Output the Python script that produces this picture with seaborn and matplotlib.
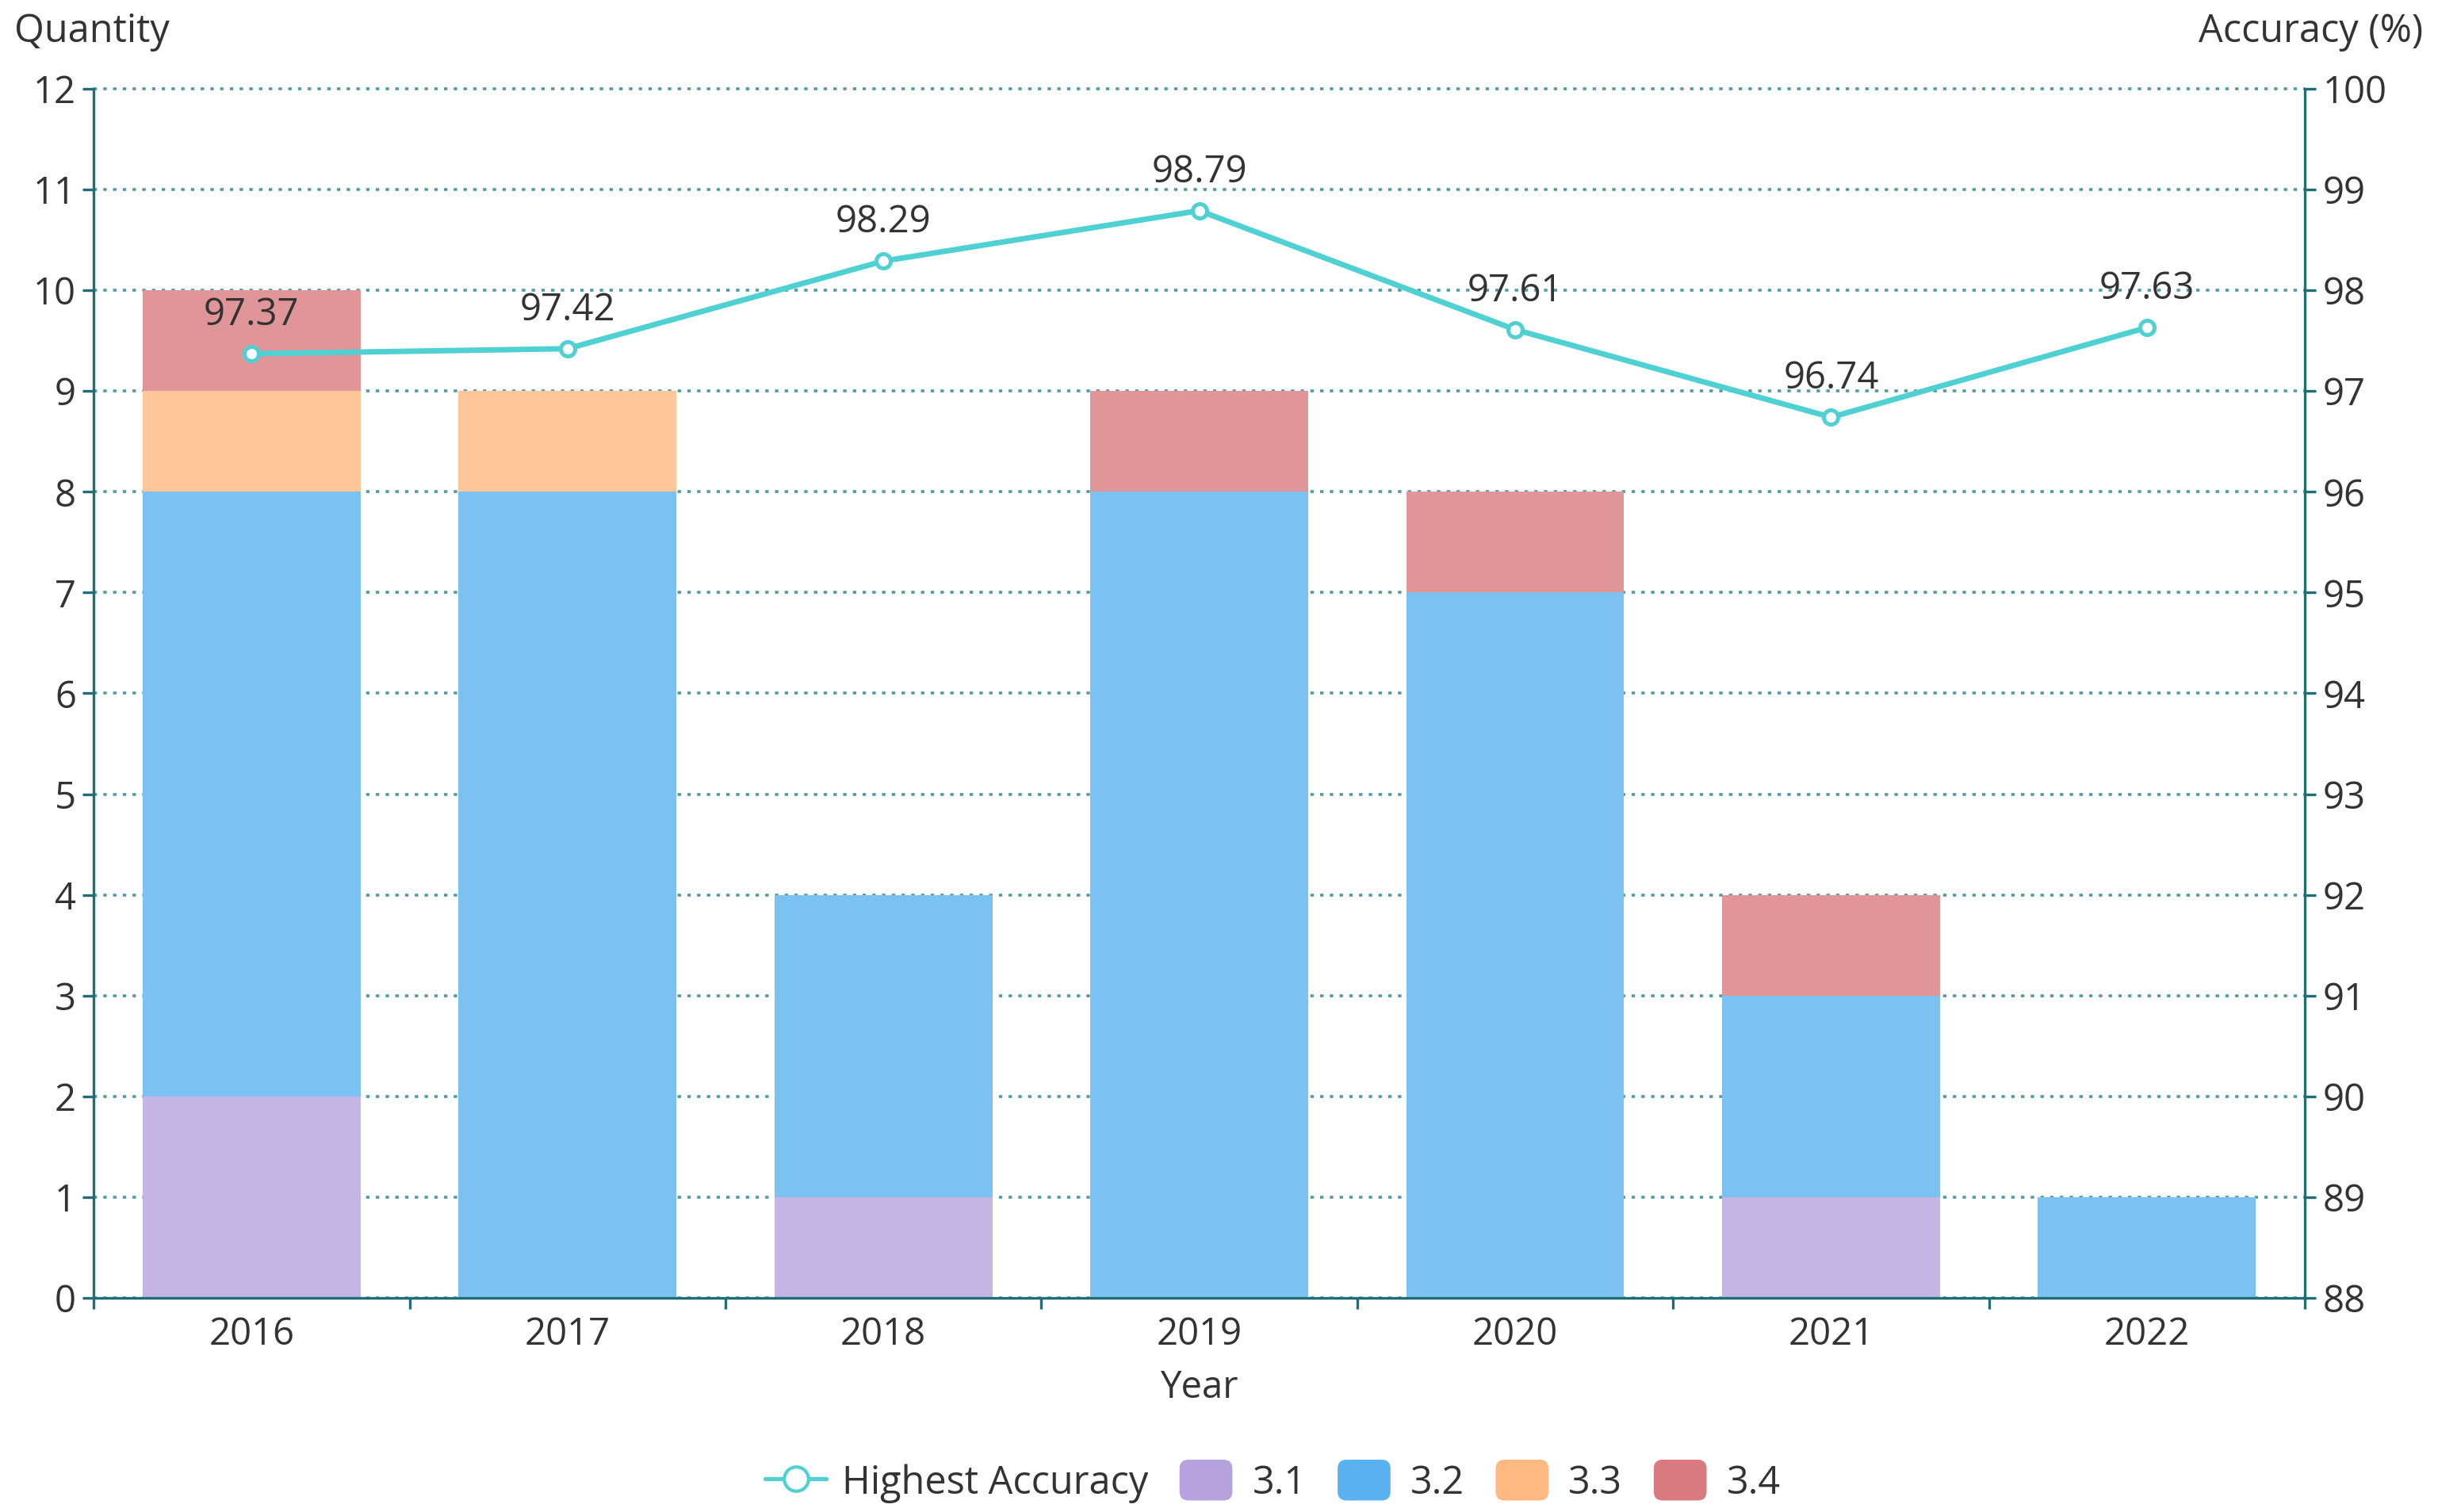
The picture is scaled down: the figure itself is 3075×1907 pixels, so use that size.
import numpy as np
import pandas as pd
import seaborn as sns
import matplotlib.pyplot as plt
import matplotlib.patches as mpat
from matplotlib.lines import Line2D
from matplotlib.legend_handler import HandlerPatch

years = ['2016', '2017', '2018', '2019', '2020', '2021', '2022']
q31 = [2, 0, 1, 0, 0, 1, 0]
q32 = [6, 8, 3, 8, 7, 2, 1]
q33 = [1, 1, 0, 0, 0, 0, 0]
q34 = [1, 0, 0, 1, 1, 1, 0]
accuracy = [97.37, 97.42, 98.29, 98.79, 97.61, 96.74, 97.63]

series_names = ['3.1', '3.2', '3.3', '3.4']
base_colors = ['#b6a2de', '#5ab1ef', '#ffb980', '#d87a80']
line_color = '#4fd0d2'
axis_color = '#1f6e77'
grid_color = '#4f9aa3'
text_color = '#333333'


def fade(hex_color, alpha=0.8):
    # blend with white so overlapping stacked bars stay opaque
    rgb = np.array(mpat.colors.to_rgb(hex_color))
    return tuple(rgb * alpha + (1 - alpha))


class RoundPatchHandler(HandlerPatch):
    def create_artists(self, legend, orig_handle, xdescent, ydescent,
                       width, height, fontsize, trans):
        p = mpat.FancyBboxPatch((-xdescent + 2, -ydescent - 2), width - 4, height + 4,
                                boxstyle='round,pad=0,rounding_size=4',
                                facecolor=orig_handle.get_facecolor(),
                                edgecolor='none', transform=trans)
        return [p]


sns.set_theme(style='white')
plt.rcParams['font.family'] = ['Open Sans', 'DejaVu Sans']
plt.rcParams['text.color'] = text_color
plt.rcParams['axes.labelcolor'] = text_color

df = pd.DataFrame({'Year': years, '3.1': q31, '3.2': q32, '3.3': q33, '3.4': q34})
layers = df[series_names].cumsum(axis=1)

fig = plt.figure(figsize=(15.375, 9.535), dpi=200)
ax = fig.add_axes([0.0384, 0.1416, 0.907, 0.7997])

# draw cumulative totals from the top layer down so each segment shows
for name, col in zip(series_names[::-1], base_colors[::-1]):
    sns.barplot(x=df['Year'], y=layers[name], color=fade(col), saturation=1,
                width=0.69, linewidth=0, ax=ax, zorder=2)

ax.set_ylim(0, 12)
ax.set_xlim(-0.5, len(years) - 0.5)
ax.set_yticks(range(0, 13))
ax.yaxis.grid(True, linestyle=(0, (1.2, 2.2)), color=grid_color, linewidth=1.3)
ax.xaxis.grid(False)
ax.set_axisbelow(True)
for gl in ax.get_ygridlines():
    gl.set_clip_on(False)

ax.set_xticks(range(len(years)))
ax.set_xticklabels(years)
ax.set_xticks(np.arange(-0.5, len(years)), minor=True)
ax.tick_params(axis='x', which='major', length=0, pad=8, labelsize=17, colors=text_color)
ax.tick_params(axis='x', which='minor', length=5, width=1.2, color=axis_color, direction='out', bottom=True)
ax.tick_params(axis='y', length=5, width=1.2, color=axis_color, direction='out', left=True,
               labelsize=17, labelcolor=text_color, pad=3)
ax.set_xlabel('Year', fontsize=17, labelpad=7)
ax.set_ylabel('')

for s in ['left', 'right', 'bottom']:
    ax.spines[s].set_color(axis_color)
    ax.spines[s].set_linewidth(1.2)
ax.spines['top'].set_visible(False)

ax2 = ax.twinx()
xpos = np.arange(len(years))
sns.lineplot(x=xpos, y=accuracy, ax=ax2, color=line_color, linewidth=2.5,
             marker='o', markersize=6.5, markerfacecolor='white',
             markeredgecolor=line_color, markeredgewidth=1.8, zorder=5)
for x, v in zip(xpos, accuracy):
    ax2.annotate(f'{v:.2f}', (x, v), xytext=(0, 13), textcoords='offset points',
                 ha='center', va='baseline', fontsize=17, color=text_color)
ax2.set_ylim(88, 100)
ax2.set_yticks(range(88, 101))
ax2.tick_params(axis='y', length=5, width=1.2, color=axis_color, direction='out', right=True,
                labelsize=17, labelcolor=text_color, pad=3)
ax2.grid(False)
for s in ax2.spines.values():
    s.set_visible(False)

fig.text(0.006, 0.979, 'Quantity', fontsize=17.5, ha='left', va='center')
fig.text(0.994, 0.979, 'Accuracy (%)', fontsize=17.5, ha='right', va='center')

handles = [Line2D([0], [0], color=line_color, linewidth=1.9, marker='o', markersize=11,
                  markerfacecolor='white', markeredgecolor=line_color, markeredgewidth=1.5)]
handles += [mpat.Patch(facecolor=c, label=n) for c, n in zip(base_colors, series_names)]
labels = ['Highest Accuracy'] + series_names
fig.legend(handles, labels, loc='center', bbox_to_anchor=(0.522, 0.019), ncol=5,
           frameon=False, fontsize=17.5, handlelength=1.6, handleheight=0.9,
           handletextpad=0.4, columnspacing=0.7,
           handler_map={mpat.Patch: RoundPatchHandler()})

fig.savefig('out.png', dpi=200)
